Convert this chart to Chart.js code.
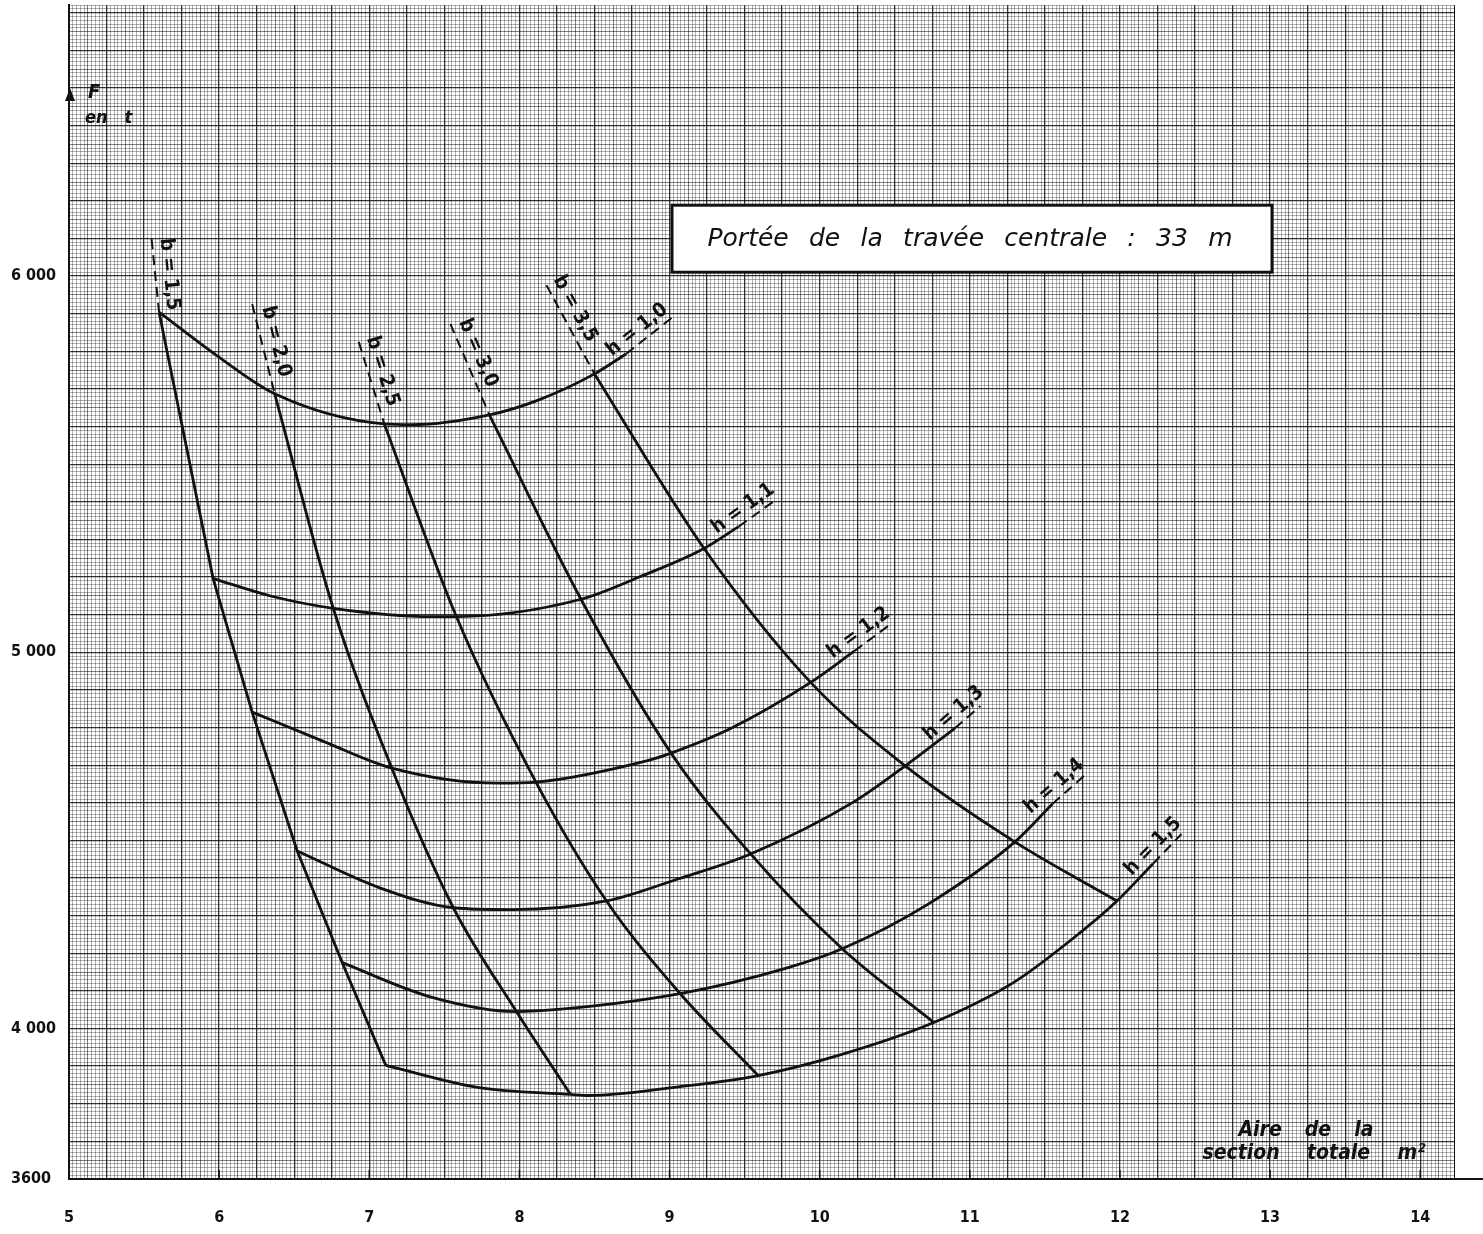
<!DOCTYPE html>
<html>
<head>
<meta charset="utf-8">
<title>Portée de la travée centrale : 33 m</title>
<script src="https://cdn.jsdelivr.net/npm/chart.js@4.4.1/dist/chart.umd.min.js"></script>
<style>
  html, body { margin: 0; padding: 0; background: #fff; }
  #wrap { width: 1483px; height: 1234px; }
</style>
</head>
<body>
<div id="wrap"><canvas id="abaque" width="1483" height="1234"></canvas></div>
<script>
// ================================================================
// Abaque : F (t) en fonction de l'aire de la section totale (m²)
// ================================================================
const bLabels = ['1,5', '2,0', '2,5', '3,0', '3,5'];
const hLabels = ['1,0', '1,1', '1,2', '1,3', '1,4', '1,5'];

// intersections h x b — une ligne par h, une colonne par b
const nodeArea = [
    [5.60, 6.37, 7.10, 7.80, 8.50],
    [5.96, 6.76, 7.58, 8.41, 9.23],
    [6.22, 7.15, 8.11, 9.01, 9.94],
    [6.52, 7.56, 8.58, 9.54, 10.57],
    [6.82, 7.98, 9.07, 10.15, 11.30],
    [7.11, 8.34, 9.59, 10.76, 11.98]
];
const nodeForce = [
    [5904, 5687, 5607, 5631, 5740],
    [5196, 5117, 5095, 5141, 5276],
    [4841, 4692, 4655, 4732, 4920],
    [4472, 4321, 4339, 4464, 4698],
    [4175, 4045, 4093, 4212, 4496],
    [3902, 3825, 3875, 4016, 4339]
];
// points relevés entre les intersections (forme des courbes h)
const midArea = [
    [5.98, 7.28, 8.13],
    [6.35, 7.42, 8.81],
    [6.69, 7.86, 8.86, 9.41],
    [7.07, 7.95, 9.06, 10.23],
    [7.40, 8.17, 9.79, 10.72],
    [7.73, 8.46, 9.06, 10.12, 11.29, 11.67]
];
const midForce = [
    [5790, 5605, 5671],
    [5149, 5095, 5202],
    [4764, 4652, 4713, 4798],
    [4374, 4316, 4398, 4603],
    [4085, 4048, 4162, 4330],
    [3843, 3822, 3845, 3928, 4122, 4234]
];
// fin du trait plein, puis bout du repère qui porte l'étiquette h
const hEndArea = [[8.71, 9.04], [9.46, 9.70], [10.23, 10.47], [10.90, 11.07], [11.55, 11.76], [12.22, 12.41]];
const hEndForce = [[5793, 5897], [5334, 5403], [5003, 5074], [4798, 4857], [4597, 4671], [4438, 4517]];
// départ du repère pointillé des droites b (au-dessus de h = 1,0)
const bTopArea = [5.55, 6.22, 6.93, 7.54, 8.18];
const bTopForce = [6098, 5926, 5825, 5873, 5976];

const xTicks = [5, 6, 7, 8, 9, 10, 11, 12, 13, 14];
const yTicks = [3600, 4000, 5000, 6000];
const yTickText = ['3600', '4 000', '5 000', '6 000'];

const INK = '#111';
const COND = "'DejaVu Sans Condensed', 'Liberation Sans Narrow', 'DejaVu Sans', sans-serif";

// ---- datasets ----
const datasets = [];
const solid = { borderColor: INK, borderWidth: 2.8, pointRadius: 0, fill: false };
const dashed = { borderColor: INK, borderWidth: 2, pointRadius: 0, fill: false, borderDash: [10, 6], tension: 0 };

hLabels.forEach((h, i) => {
    const pts = nodeArea[i].map((a, j) => ({ x: a, y: nodeForce[i][j] }))
        .concat(midArea[i].map((a, j) => ({ x: a, y: midForce[i][j] })))
        .sort((p, q) => p.x - q.x);
    pts.push({ x: hEndArea[i][0], y: hEndForce[i][0] });
    datasets.push({ ...solid, label: 'h = ' + h, data: pts, cubicInterpolationMode: 'monotone' });
    datasets.push({ ...dashed, label: 'h = ' + h + ' (repère)',
        data: [{ x: hEndArea[i][0], y: hEndForce[i][0] }, { x: hEndArea[i][1], y: hEndForce[i][1] }] });
});
bLabels.forEach((b, j) => {
    const pts = nodeArea.map((row, i) => ({ x: row[j], y: nodeForce[i][j] }));
    const shape = j === 0 ? { tension: 0 } : { cubicInterpolationMode: 'monotone' };
    datasets.push({ ...solid, ...shape, label: 'b = ' + b, data: pts });
    datasets.push({ ...dashed, label: 'b = ' + b + ' (repère)',
        data: [{ x: bTopArea[j], y: bTopForce[j] }, pts[0]] });
});

// ---- papier millimétré ----
const paper = i => i % 10 === 0 ? 'rgba(0,0,0,0.8)' : (i % 5 === 0 ? 'rgba(0,0,0,0.5)' : 'rgba(0,0,0,0.3)');
const xIdx = v => Math.round((v - 5) / 0.025);
const yIdx = v => Math.round((v - 3600) / 10);
const tickFont = shown => ({ family: COND, size: shown ? 16 : 2, weight: 'bold' });

// ---- annotations (étiquettes, cartouche, titres d'axes) ----
function pathLabel(ctx, text, p0, p1, perp, along) {
    const ang = Math.atan2(p1.y - p0.y, p1.x - p0.x);
    const dx = Math.cos(ang), dy = Math.sin(ang);
    const ux = Math.sin(ang), uy = -Math.cos(ang);
    const mx = (p0.x + p1.x) / 2 + ux * perp + dx * along;
    const my = (p0.y + p1.y) / 2 + uy * perp + dy * along;
    ctx.save();
    ctx.translate(mx, my);
    ctx.rotate(ang);
    ctx.fillText(text, 0, 0);
    ctx.restore();
}

// texte étalé sur une largeur donnée (espaces élargis comme sur le tirage)
function spreadText(ctx, text, cx, cy, width) {
    const gaps = text.split(' ').length - 1;
    if ('wordSpacing' in ctx && gaps > 0) {
        ctx.wordSpacing = '0px';
        const w = ctx.measureText(text).width;
        ctx.wordSpacing = Math.max(0, (width - w) / gaps) + 'px';
    }
    ctx.fillText(text, cx, cy);
    if ('wordSpacing' in ctx) ctx.wordSpacing = '0px';
}

const annotations = {
    id: 'annotations',
    afterDatasetsDraw(chart) {
        const { ctx, chartArea: ca, scales: { x, y } } = chart;
        const px = (a, f) => ({ x: x.getPixelForValue(a), y: y.getPixelForValue(f) });
        ctx.save();
        ctx.fillStyle = INK;
        ctx.strokeStyle = INK;
        ctx.textAlign = 'center';
        ctx.textBaseline = 'middle';

        // étiquettes b et h le long des repères
        ctx.font = 'bold 20px ' + COND;
        bLabels.forEach((b, j) => {
            pathLabel(ctx, 'b = ' + b, px(bTopArea[j], bTopForce[j]), px(nodeArea[0][j], nodeForce[0][j]), 14, -4 * j);
        });
        hLabels.forEach((h, i) => {
            pathLabel(ctx, 'h = ' + h, px(hEndArea[i][0], hEndForce[i][0]), px(hEndArea[i][1], hEndForce[i][1]), 12, -8);
        });

        // cartouche
        const bx = ca.left + 603, by = ca.top + 200, bw = 600, bh = 67;
        ctx.fillStyle = '#fff';
        ctx.fillRect(bx, by, bw, bh);
        ctx.lineWidth = 3;
        ctx.strokeRect(bx, by, bw, bh);
        ctx.fillStyle = INK;
        ctx.font = "oblique 25px 'DejaVu Sans', 'Liberation Sans', sans-serif";
        spreadText(ctx, 'Portée de la travée centrale : 33 m', bx + bw / 2 - 2, by + bh / 2 + 1, 525);

        // flèche et nom de l'axe F
        const ax = ca.left + 1, tip = y.getPixelForValue(6500);
        ctx.beginPath();
        ctx.moveTo(ax, tip);
        ctx.lineTo(ax - 5, tip + 13);
        ctx.lineTo(ax + 5, tip + 13);
        ctx.closePath();
        ctx.fill();
        ctx.textAlign = 'left';
        ctx.font = "bold italic 20px " + COND;
        ctx.fillText('F', ax + 18, tip + 5);
        ctx.font = "bold italic 18px " + COND;
        ctx.fillText('en   t', ax + 15, tip + 30);

        // titre de l'axe des aires
        ctx.textAlign = 'center';
        ctx.font = "bold italic 21px " + COND;
        spreadText(ctx, 'Aire de la', ca.right - 148, ca.bottom - 48, 135);
        spreadText(ctx, 'section totale m²', ca.right - 140, ca.bottom - 25, 223);

        // petits traits des unités et prolongement de l'axe
        ctx.lineWidth = 1.5;
        xTicks.slice(1).forEach(v => {
            const p = x.getPixelForValue(v);
            ctx.beginPath();
            ctx.moveTo(p, ca.bottom - 9);
            ctx.lineTo(p, ca.bottom);
            ctx.stroke();
        });
        ctx.lineWidth = 2;
        ctx.beginPath();
        ctx.moveTo(ca.right, ca.bottom);
        ctx.lineTo(chart.width, ca.bottom);
        ctx.stroke();
        ctx.restore();
    }
};

new Chart(document.getElementById('abaque').getContext('2d'), {
    type: 'line',
    data: { datasets },
    options: {
        responsive: false,
        animation: false,
        devicePixelRatio: 1,
        layout: { padding: { left: 11, right: 22, top: 3, bottom: 0 } },
        plugins: { legend: { display: false }, tooltip: { enabled: false } },
        scales: {
            x: {
                type: 'linear', min: 5, max: 14.225,
                afterFit: s => { s.height = 55; },
                border: { color: INK, width: 2 },
                grid: {
                    drawTicks: false,
                    color: c => c.tick.value > 14.22 ? INK : paper(xIdx(c.tick.value)),
                    lineWidth: c => xIdx(c.tick.value) % 10 === 0 ? 1.3 : 1
                },
                ticks: {
                    stepSize: 0.025, maxTicksLimit: 1000, autoSkip: false, maxRotation: 0, minRotation: 0,
                    padding: 29, color: INK,
                    font: c => tickFont(c.tick && xIdx(c.tick.value) % 40 === 0),
                    callback: v => { const k = xTicks.indexOf(Math.round(v * 1000) / 1000); return k < 0 ? '' : String(xTicks[k]); }
                }
            },
            y: {
                type: 'linear', min: 3600, max: 6720,
                afterFit: s => { s.width = 58; },
                border: { color: INK, width: 2 },
                grid: {
                    drawTicks: false,
                    color: c => paper(yIdx(c.tick.value)),
                    lineWidth: c => yIdx(c.tick.value) % 10 === 0 ? 1.3 : 1
                },
                ticks: {
                    stepSize: 10, maxTicksLimit: 1000, autoSkip: false, crossAlign: 'far', padding: 4,
                    color: INK,
                    font: c => tickFont(c.tick && yTicks.includes(Math.round(c.tick.value))),
                    callback: v => { const k = yTicks.indexOf(Math.round(v)); return k < 0 ? '' : yTickText[k]; }
                }
            }
        }
    },
    plugins: [annotations]
});
</script>
</body>
</html>
